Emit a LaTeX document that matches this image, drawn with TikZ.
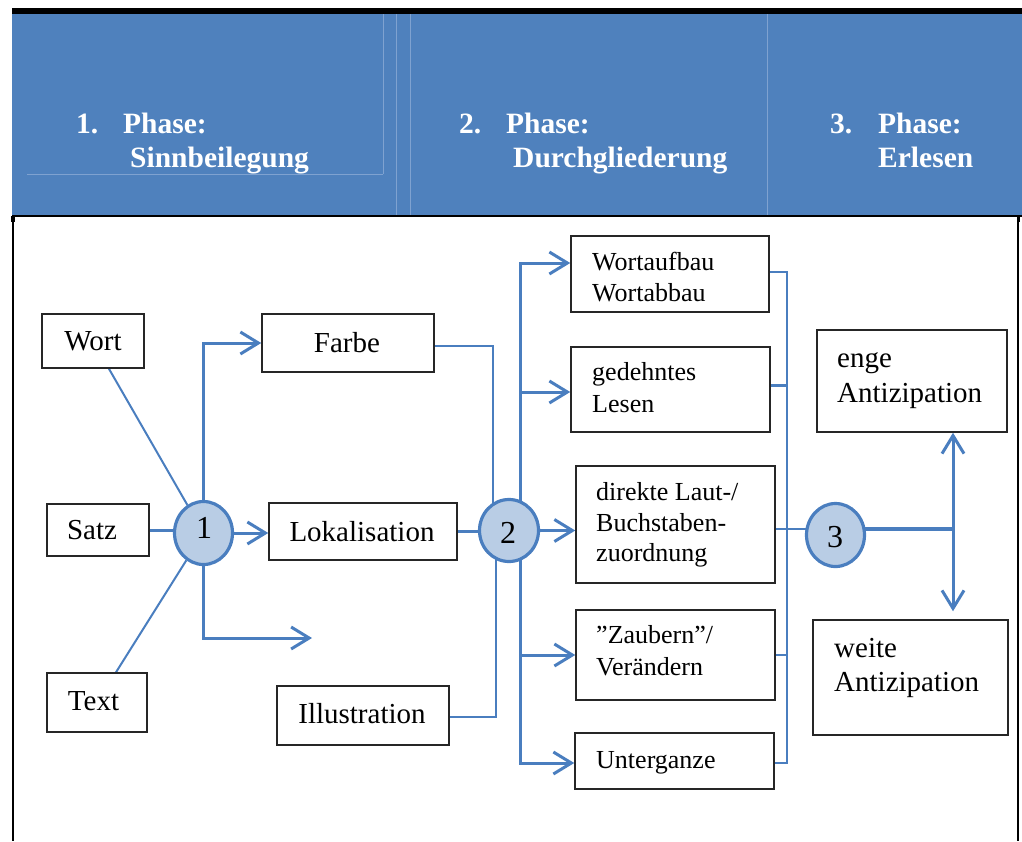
\documentclass[tikz,border=0pt]{standalone}
\usepackage{fontspec}
\setmainfont{Liberation Serif}
\usetikzlibrary{arrows.meta,shapes.geometric,calc}
\definecolor{hblue}{HTML}{4F81BD}
\definecolor{hline}{HTML}{7FA2D0}
\definecolor{cfill}{HTML}{B9CDE5}
\definecolor{lblue}{HTML}{4A7EBF}
\pgfdeclarelayer{bg}
\pgfsetlayers{bg,main}
\begin{document}
\begin{tikzpicture}[x=1pt,y=-1pt,
  box/.style={draw=black!85, line width=1.5pt, inner sep=0pt, rectangle},
  circ/.style={ellipse, draw=lblue, fill=cfill, line width=3.2pt, inner sep=0pt, minimum width=58pt, minimum height=63pt},
  big/.style={font=\fontsize{29}{31}\selectfont, inner sep=0pt},
  small/.style={font=\fontsize{26}{31}\selectfont, inner sep=0pt, anchor=base west},
  digit/.style={font=\fontsize{32}{34}\selectfont, inner sep=0pt, anchor=base},
  head/.style={font=\fontsize{29.5}{32}\selectfont\bfseries, text=white, inner sep=0pt, anchor=base west},
  ln/.style={draw=lblue, line width=2pt},
  lnm/.style={draw=lblue, line width=3pt},
  lth/.style={draw=lblue, line width=4pt},
  arr/.style={lnm, -{Straight Barb[length=18pt,width=22pt]}},
]
\useasboundingbox (0,0) rectangle (1022,841);
% header
\fill[black] (12,8) rectangle (1022,14);
\fill[hblue] (12,14) rectangle (1022,216);
\draw[hline, line width=0.8pt] (383,14) -- (383,174) (27,174) -- (383,174)
  (396,14) -- (396,216) (410,14) -- (410,216) (767,14) -- (767,216);
\draw[black, line width=1.5pt] (12,216) -- (1022,216);
\draw[black, line width=1.2pt] (13,216) -- (13,841) (1018,216) -- (1018,841);
\fill[black] (11,216) rectangle (14.5,222);
\fill[black] (1016.5,216) rectangle (1020,222);
\node[head] (h1n) at (76,133) {1.};
\node[head] (h1a) at (123,133) {Phase:};
\node[head] (h1b) at (130,167) {Sinnbeilegung};
\node[head] (h2n) at (459,133) {2.};
\node[head] (h2a) at (506,133) {Phase:};
\node[head] (h2b) at (513,167) {Durchgliederung};
\node[head] (h3n) at (830,133) {3.};
\node[head] (h3a) at (878,133) {Phase:};
\node[head] (h3b) at (878,167) {Erlesen};

% boxes
\node[box, minimum width=102pt, minimum height=54pt] (wort) at (93,341) {};
\node[box, minimum width=102pt, minimum height=52pt] (satz) at (98,530) {};
\node[box, minimum width=100pt, minimum height=59pt] (text) at (97,702.5) {};
\node[box, minimum width=172pt, minimum height=58pt] (farbe) at (348,343) {};
\node[box, minimum width=188pt, minimum height=57pt] (lok) at (363,531.5) {};
\node[box, minimum width=172pt, minimum height=59pt] (ill) at (363,715.5) {};
\node[box, minimum width=198pt, minimum height=76pt] (wab) at (670,274) {};
\node[box, minimum width=199pt, minimum height=85pt] (ged) at (670.5,389.5) {};
\node[box, minimum width=199pt, minimum height=117pt] (dir) at (675.5,524.5) {};
\node[box, minimum width=199pt, minimum height=90pt] (zau) at (675.5,655) {};
\node[box, minimum width=199pt, minimum height=56pt] (unt) at (674.5,761) {};
\node[box, minimum width=190pt, minimum height=102pt] (enge) at (912,381) {};
\node[box, minimum width=195pt, minimum height=115pt] (weite) at (910.5,677.5) {};

% circles
\node[circ] (c1) at (203.5,533) {};
\node[circ, minimum width=59pt, minimum height=62pt] (c2) at (509,530.5) {};
\node[circ] (c3) at (835.5,535) {};
\node[digit] (d1) at (204,538) {1};
\node[digit] (d2) at (508,543) {2};
\node[digit] (d3) at (835,547) {3};

% texts
\node[big, anchor=base] (twort) at (93,350) {Wort};
\node[big, anchor=base] (tsatz) at (92,539) {Satz};
\node[big, anchor=base] (ttext) at (93.5,710) {Text};
\node[big, anchor=base] (tfarbe) at (347,352) {Farbe};
\node[big, anchor=base] (tlok) at (362,541) {Lokalisation};
\node[big, anchor=base] (till) at (362,723) {Illustration};
\node[small] (twab1) at (592,270) {Wortaufbau};
\node[small] (twab2) at (592,301) {Wortabbau};
\node[small] (tged1) at (592,380) {gedehntes};
\node[small] (tged2) at (592,412) {Lesen};
\node[small] (tdir1) at (596,500) {direkte Laut-/};
\node[small] (tdir2) at (596,531) {Buchstaben-};
\node[small] (tdir3) at (596,561) {zuordnung};
\node[small] (tzau1) at (596,643) {”Zaubern”/};
\node[small] (tzau2) at (596,675) {Verändern};
\node[small] (tunt) at (596,768) {Unterganze};
\node[big, anchor=base west] (tenge1) at (837,367) {enge};
\node[big, anchor=base west] (tenge2) at (837,402) {Antizipation};
\node[big, anchor=base west] (tweite1) at (834,657) {weite};
\node[big, anchor=base west] (tweite2) at (834,691) {Antizipation};

% coordinates
\coordinate (free) at (312,638);
\coordinate (c2a) at ($(c2)+(-16,0)$);
\coordinate (c2b) at ($(c2)+(-13,0)$);
\coordinate (f) at ($(c2)+(11.5,0)$);
\coordinate (bus) at (787,0);
\coordinate (j) at (953,529);

\begin{pgfonlayer}{bg}
\draw[ln] (wort) -- (c1);
\draw[ln] (text) -- (c1);
\draw[lnm] (satz.east) -- (satz.east -| c1);
\draw[arr] (c1) |- (farbe.west);
\draw[arr] (c1) -- (c1 -| lok.west);
\draw[arr] (c1) |- (free);
\draw[ln] ($(farbe.east)+(0,3)$) -| (c2a);
\draw[lnm] (lok.east) -- (lok.east -| c2);
\draw[ln] ($(ill.east)+(0,1.5)$) -| (c2b);
\draw[arr] (f) |- ($(wab.west)+(0,-11)$);
\draw[arr] (f) |- ($(ged.west)+(0,2.5)$);
\draw[arr] (f) |- (zau.west);
\draw[arr] (f) |- ($(unt.west)+(0,2)$);
\draw[arr] (c2) -- (c2 -| dir.west);
\draw[ln] ($(wab.east)+(0,-2)$) -| ($(bus |- unt.east)+(0,2)$) -- ($(unt.east)+(0,2)$);
\draw[lnm] ($(ged.east)+(0,-4.5)$) -- ($(ged.east -| bus)+(0,-4.5)$);
\draw[ln] (zau.east) -- (zau.east -| bus);
\draw[ln] ($(dir.east)+(0,4.5)$) -- ($(dir.east -| c3)+(0,4.5)$);
\draw[lth] ($(c3)+(0,-6)$) -- (j);
\draw[arr] (j) -- (enge.south -| j);
\draw[arr] (j) -- ($(weite.north -| j)+(0,-8)$);
\end{pgfonlayer}
\end{tikzpicture}
\end{document}
